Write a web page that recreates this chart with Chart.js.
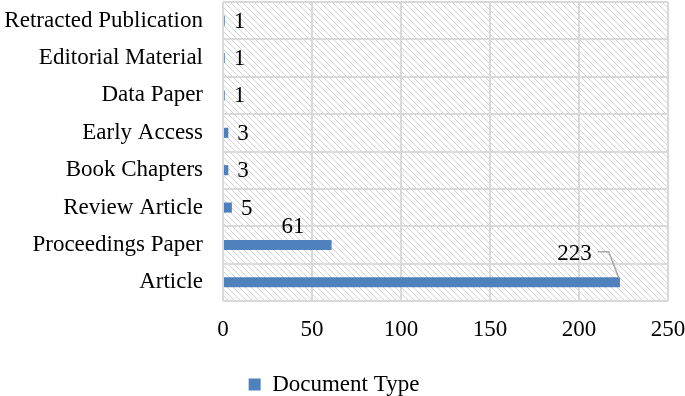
<!DOCTYPE html>
<html><head><meta charset="utf-8">
<script src="https://cdn.jsdelivr.net/npm/chart.js@4"></script>
<style>html,body{margin:0;padding:0;background:#fff}canvas{display:block}</style>
</head><body><canvas id="c" width="685" height="396"></canvas>
<script>
const categories = ["Retracted Publication","Editorial Material","Data Paper","Early Access","Book Chapters","Review Article","Proceedings Paper","Article"];
const documentCounts = [1,1,1,3,3,5,61,223];
const seriesName = "Document Type";
const xTicks = [0,50,100,150,200,250];

const FONT = "'Liberation Serif', serif";
const FS = 23;

function hatch(){
  const s = 6, c = document.createElement('canvas');
  c.width = s; c.height = s;
  const g = c.getContext('2d');
  g.fillStyle = '#fff'; g.fillRect(0,0,s,s);
  g.strokeStyle = '#d4d4d4'; g.lineWidth = 1;
  g.beginPath();
  g.moveTo(0,0); g.lineTo(s,s);
  g.moveTo(-s/2, s/2); g.lineTo(s/2, s*1.5);
  g.moveTo(s/2, -s/2); g.lineTo(s*1.5, s/2);
  g.stroke();
  return c;
}

const bgPlugin = {
  id:'bg',
  beforeDraw(chart){
    const {ctx, chartArea:a} = chart;
    ctx.save();
    ctx.fillStyle = ctx.createPattern(hatch(),'repeat');
    ctx.fillRect(a.left, a.top, a.right-a.left, a.bottom-a.top);
    ctx.restore();
  }
};

const labelPlugin = {
  id:'vlabels',
  afterDatasetsDraw(chart, args, opts){
    const ctx = chart.ctx;
    const meta = chart.getDatasetMeta(0);
    ctx.save();
    ctx.font = FS + "px " + FONT;
    ctx.fillStyle = '#000';
    ctx.textBaseline = 'middle';
    meta.data.forEach((bar, i) => {
      const v = chart.data.datasets[0].data[i];
      const txt = String(v);
      const special = opts.placements[i];
      if (special) {
        ctx.textAlign = 'center';
        const tx = bar.x + special.dx, ty = bar.y + special.dy;
        ctx.fillText(txt, tx, ty);
        if (special.leader) {
          const w = ctx.measureText(txt).width;
          ctx.strokeStyle = '#a6a6a6'; ctx.lineWidth = 1.5;
          ctx.beginPath();
          ctx.moveTo(tx + w/2 + 6, ty - 2);
          ctx.lineTo(tx + w/2 + 17, ty - 2);
          ctx.lineTo(bar.x - 1, bar.y - 4);
          ctx.stroke();
        }
      } else {
        ctx.textAlign = 'left';
        ctx.fillText(txt, bar.x + 9, bar.y + 1);
      }
    });
    ctx.restore();
  }
};

new Chart(document.getElementById('c'), {
  type:'bar',
  data:{
    labels: categories,
    datasets:[{
      label: seriesName,
      data: documentCounts,
      backgroundColor:'#4F81BD',
      borderWidth:0,
      barPercentage:0.52,
      categoryPercentage:0.52
    }]
  },
  options:{
    indexAxis:'y',
    responsive:false,
    animation:false,
    devicePixelRatio:1,
    layout:{padding:{top:2,right:17,left:0,bottom:-10}},
    scales:{
      x:{
        min:0,max:250,
        afterBuildTicks(s){ s.ticks = xTicks.map(v=>({value:v})); },
        grid:{color:'#d9d9d9',lineWidth:2,drawTicks:false},
        border:{display:false},
        ticks:{color:'#000',font:{family:FONT,size:FS},padding:15,maxRotation:0},
        afterFit(s){ s.height = 66; s.paddingLeft = 0; s.paddingRight = 0; }
      },
      y:{
        grid:{color:'#d9d9d9',lineWidth:2,drawTicks:false},
        border:{display:false},
        ticks:{color:'#000',font:{family:FONT,size:FS},padding:20},
        afterFit(s){ s.width = 223; s.paddingTop = 0; s.paddingBottom = 0; }
      }
    },
    plugins:{
      legend:{
        position:'bottom',
        labels:{color:'#000',font:{family:FONT,size:FS,lineHeight:1},boxWidth:12,boxHeight:12,padding:6}
      },
      tooltip:{enabled:false},
      vlabels:{placements:{6:{dx:-38.5,dy:-17.5},7:{dx:-45.5,dy:-28.5,leader:true}}}
    }
  },
  plugins:[bgPlugin,labelPlugin]
});
</script>
</body></html>
